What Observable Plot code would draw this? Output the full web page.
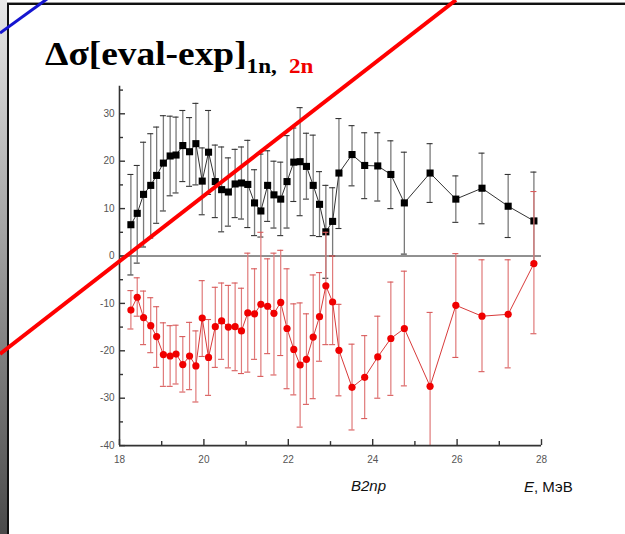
<!DOCTYPE html>
<html><head><meta charset="utf-8">
<script src="https://cdn.jsdelivr.net/npm/d3@7"></script>
<script src="https://cdn.jsdelivr.net/npm/@observablehq/plot@0.6"></script>
<style>
html,body{margin:0;padding:0;background:#fff;}
#wrap{position:relative;width:625px;height:534px;overflow:hidden;background:#fff;}
#chart{position:absolute;left:0;top:0;}
#deco{position:absolute;left:0;top:0;pointer-events:none;}
</style></head><body>
<div id="wrap"><div id="chart"></div>
<svg id="deco" width="625" height="534">
  <defs><linearGradient id="g" x1="0" y1="0" x2="0" y2="1"><stop offset="0" stop-color="#e8e8e8"/><stop offset="1" stop-color="#4a4a4a"/></linearGradient></defs>
  <rect x="0" y="0" width="7" height="534" fill="url(#g)"/>
  <rect x="7" y="2" width="618" height="1" fill="#999"/>
  <rect x="7" y="3" width="618" height="2" fill="#111"/>
  <rect x="7" y="3" width="2" height="531" fill="#111"/>
  <g transform="translate(45,65) scale(1.1,1)">
    <text x="0" y="0" font-family="Liberation Serif" font-weight="bold" font-size="34" fill="#000">Δσ[eval-exp]<tspan font-size="21" dy="8">1n,</tspan><tspan font-size="21" dx="11" fill="#f00000">2n</tspan></text>
  </g>
  <text x="351" y="491" font-family="Liberation Sans" font-style="italic" font-size="15" fill="#111">B2np</text>
  <text x="524" y="492" font-family="Liberation Sans" font-size="15" fill="#111"><tspan font-style="italic">E</tspan>, МэВ</text>
  <line x1="0" y1="33" x2="47" y2="-1" stroke="#1515d0" stroke-width="3"/>
  <line x1="0" y1="354" x2="456" y2="0" stroke="#ff0000" stroke-width="4"/>
</svg>
</div>
<script>
const energy = [18.27,18.42,18.57,18.74,18.88,19.04,19.20,19.34,19.50,19.66,19.81,19.96,20.11,20.27,20.42,20.58,20.74,20.89,21.04,21.20,21.35,21.51,21.66,21.82,21.97,22.13,22.28,22.43,22.59,22.74,22.89,23.05,23.20,23.51,23.81,24.12,24.43,24.75,25.36,25.97,26.59,27.21,27.82];
const value1n = [6.6,9.0,13.0,14.9,17.0,19.6,21.1,21.3,23.3,22.0,23.7,15.8,21.9,15.7,14.0,13.5,15.2,15.4,15.1,11.2,9.5,14.9,12.9,12.0,15.7,19.8,19.9,18.9,14.9,10.9,5.1,7.3,17.5,21.4,19.1,19.0,17.2,11.2,17.5,12.0,14.3,10.5,7.4];
const low1n = [-4.0,-1.5,1.9,3.8,6.9,9.5,12.7,13.3,15.7,14.7,15.0,8.7,13.0,8.1,5.1,6.3,8.1,7.8,6.0,4.3,4.0,7.3,5.9,4.3,5.9,11.5,8.5,12.0,4.3,4.1,-4.7,0.0,5.8,14.8,12.1,11.6,10.0,0.4,11.3,7.1,6.8,3.9,-2.0];
const high1n = [17.2,19.1,24.0,25.8,27.2,29.6,29.5,29.3,30.7,29.2,32.2,22.8,30.7,23.4,23.0,20.7,22.5,23.0,24.4,18.2,21.5,22.2,20.0,19.8,25.4,27.0,31.3,25.9,25.5,17.8,14.9,14.4,29.0,27.5,26.0,26.0,24.3,21.9,23.7,16.9,21.7,17.2,17.7];
const value2n = [-11.4,-8.7,-13.0,-14.7,-17.0,-20.8,-21.1,-20.7,-22.9,-21.1,-23.2,-13.1,-21.4,-14.9,-13.7,-15.0,-14.9,-15.8,-12.0,-12.2,-10.2,-10.6,-12.1,-9.8,-15.3,-19.7,-23.0,-21.8,-17.1,-12.8,-6.3,-9.7,-19.9,-27.7,-25.6,-21.3,-17.4,-15.3,-27.5,-10.4,-12.7,-12.3,-1.6];
const low2n = [-15.4,-12.7,-18.7,-20.4,-23.5,-27.5,-27.5,-27.0,-28.7,-28.2,-30.8,-21.2,-29.4,-23.5,-21.8,-23.6,-24.2,-24.8,-24.5,-21.8,-25.4,-20.6,-25.1,-21.0,-28.0,-29.3,-36.1,-31.3,-30.1,-22.2,-18.7,-18.7,-29.5,-36.7,-34.3,-30.0,-29.4,-27.4,-40.0,-21.4,-24.4,-23.6,-16.4];
const high2n = [-7.3,-4.6,-7.4,-8.8,-10.7,-14.1,-14.7,-14.6,-17.0,-14.0,-15.8,-5.2,-13.4,-6.6,-5.7,-6.2,-5.7,-6.8,0.6,-2.7,5.0,-0.6,0.6,1.2,-2.7,-10.1,-9.9,-12.2,-4.0,-3.5,5.0,0.0,-10.2,-18.6,-16.8,-12.7,-5.5,-3.2,-11.9,0.5,-0.8,-0.8,13.6];
const xMajorTicks = [18,20,22,24,26,28];
const xMinorTicks = [19,21,23,25,27];
const yMajorTicks = [-40,-30,-20,-10,0,10,20,30];
const yMinorTicks = [-35,-25,-15,-5,5,15,25,35];

const rows = energy.map((e,i)=>({e, v1:value1n[i], lo1:low1n[i], hi1:high1n[i], v2:value2n[i], lo2:low2n[i], hi2:high2n[i]}));
const axisColor = "#333";
const cap = (y, stroke, extra={}) => Plot.ruleY(rows, {y, x1:"e", x2:"e", insetLeft:-3, insetRight:-3, stroke, strokeWidth:1.1, ...extra});

const chart = Plot.plot({
  width: 625, height: 534,
  marginLeft: 119, marginRight: 84, marginTop: 89.6, marginBottom: 88.9,
  x: {domain: [18, 28], axis: null},
  y: {domain: [-40, 35], axis: null},
  style: {fontFamily: "'Liberation Sans', Arial, sans-serif", fontSize: "10px", background: "transparent", overflow: "visible"},
  marks: [
    Plot.ruleY([0], {x1: 18, x2: 28, stroke: "#222", strokeWidth: 1}),
    Plot.ruleX(rows, {x: "e", y1: "lo1", y2: "hi1", stroke: "#7a7a7a", strokeWidth: 1.3}),
    cap("lo1", "#333"), cap("hi1", "#333"),
    Plot.line(rows, {x: "e", y: "v1", stroke: "#333", strokeWidth: 1}),
    Plot.dot(rows, {x: "e", y: "v1", symbol: "square", r: 4, fill: "#000", stroke: "none"}),
    Plot.ruleX(rows, {x: "e", y1: "lo2", y2: "hi2", stroke: "#e07a7a", strokeWidth: 1.2}),
    cap("lo2", "#d85a5a", {filter: d => d.lo2 > -40}), cap("hi2", "#d85a5a"),
    Plot.line(rows, {x: "e", y: "v2", stroke: "#d83a3a", strokeWidth: 1}),
    Plot.dot(rows, {x: "e", y: "v2", r: 3.6, fill: "#f00000", stroke: "none"}),
    Plot.ruleX([18], {y1: -40, y2: 35.8, stroke: axisColor, strokeWidth: 1.6}),
    Plot.ruleY([-40], {x1: 18, x2: 28, stroke: axisColor, strokeWidth: 1.6}),
    Plot.ruleY(yMajorTicks, {x1: 18, x2: 18, insetRight: -6, stroke: axisColor, strokeWidth: 1.4}),
    Plot.ruleY(yMinorTicks, {x1: 18, x2: 18, insetRight: -4, stroke: axisColor, strokeWidth: 1.4}),
    Plot.ruleX(xMajorTicks, {y1: -40, y2: -40, insetTop: -6, stroke: axisColor, strokeWidth: 1.4}),
    Plot.ruleX(xMinorTicks, {y1: -40, y2: -40, insetTop: -4, stroke: axisColor, strokeWidth: 1.4}),
    Plot.text(yMajorTicks, {x: 18, y: d => d, text: d => String(d), dx: -5, textAnchor: "end", fill: "#555", fontSize: 10}),
    Plot.text(xMajorTicks, {x: d => d, y: -40, text: d => String(d), dy: 14.5, fill: "#555", fontSize: 10})
  ]
});
document.getElementById("chart").appendChild(chart);
</script>
</body></html>
